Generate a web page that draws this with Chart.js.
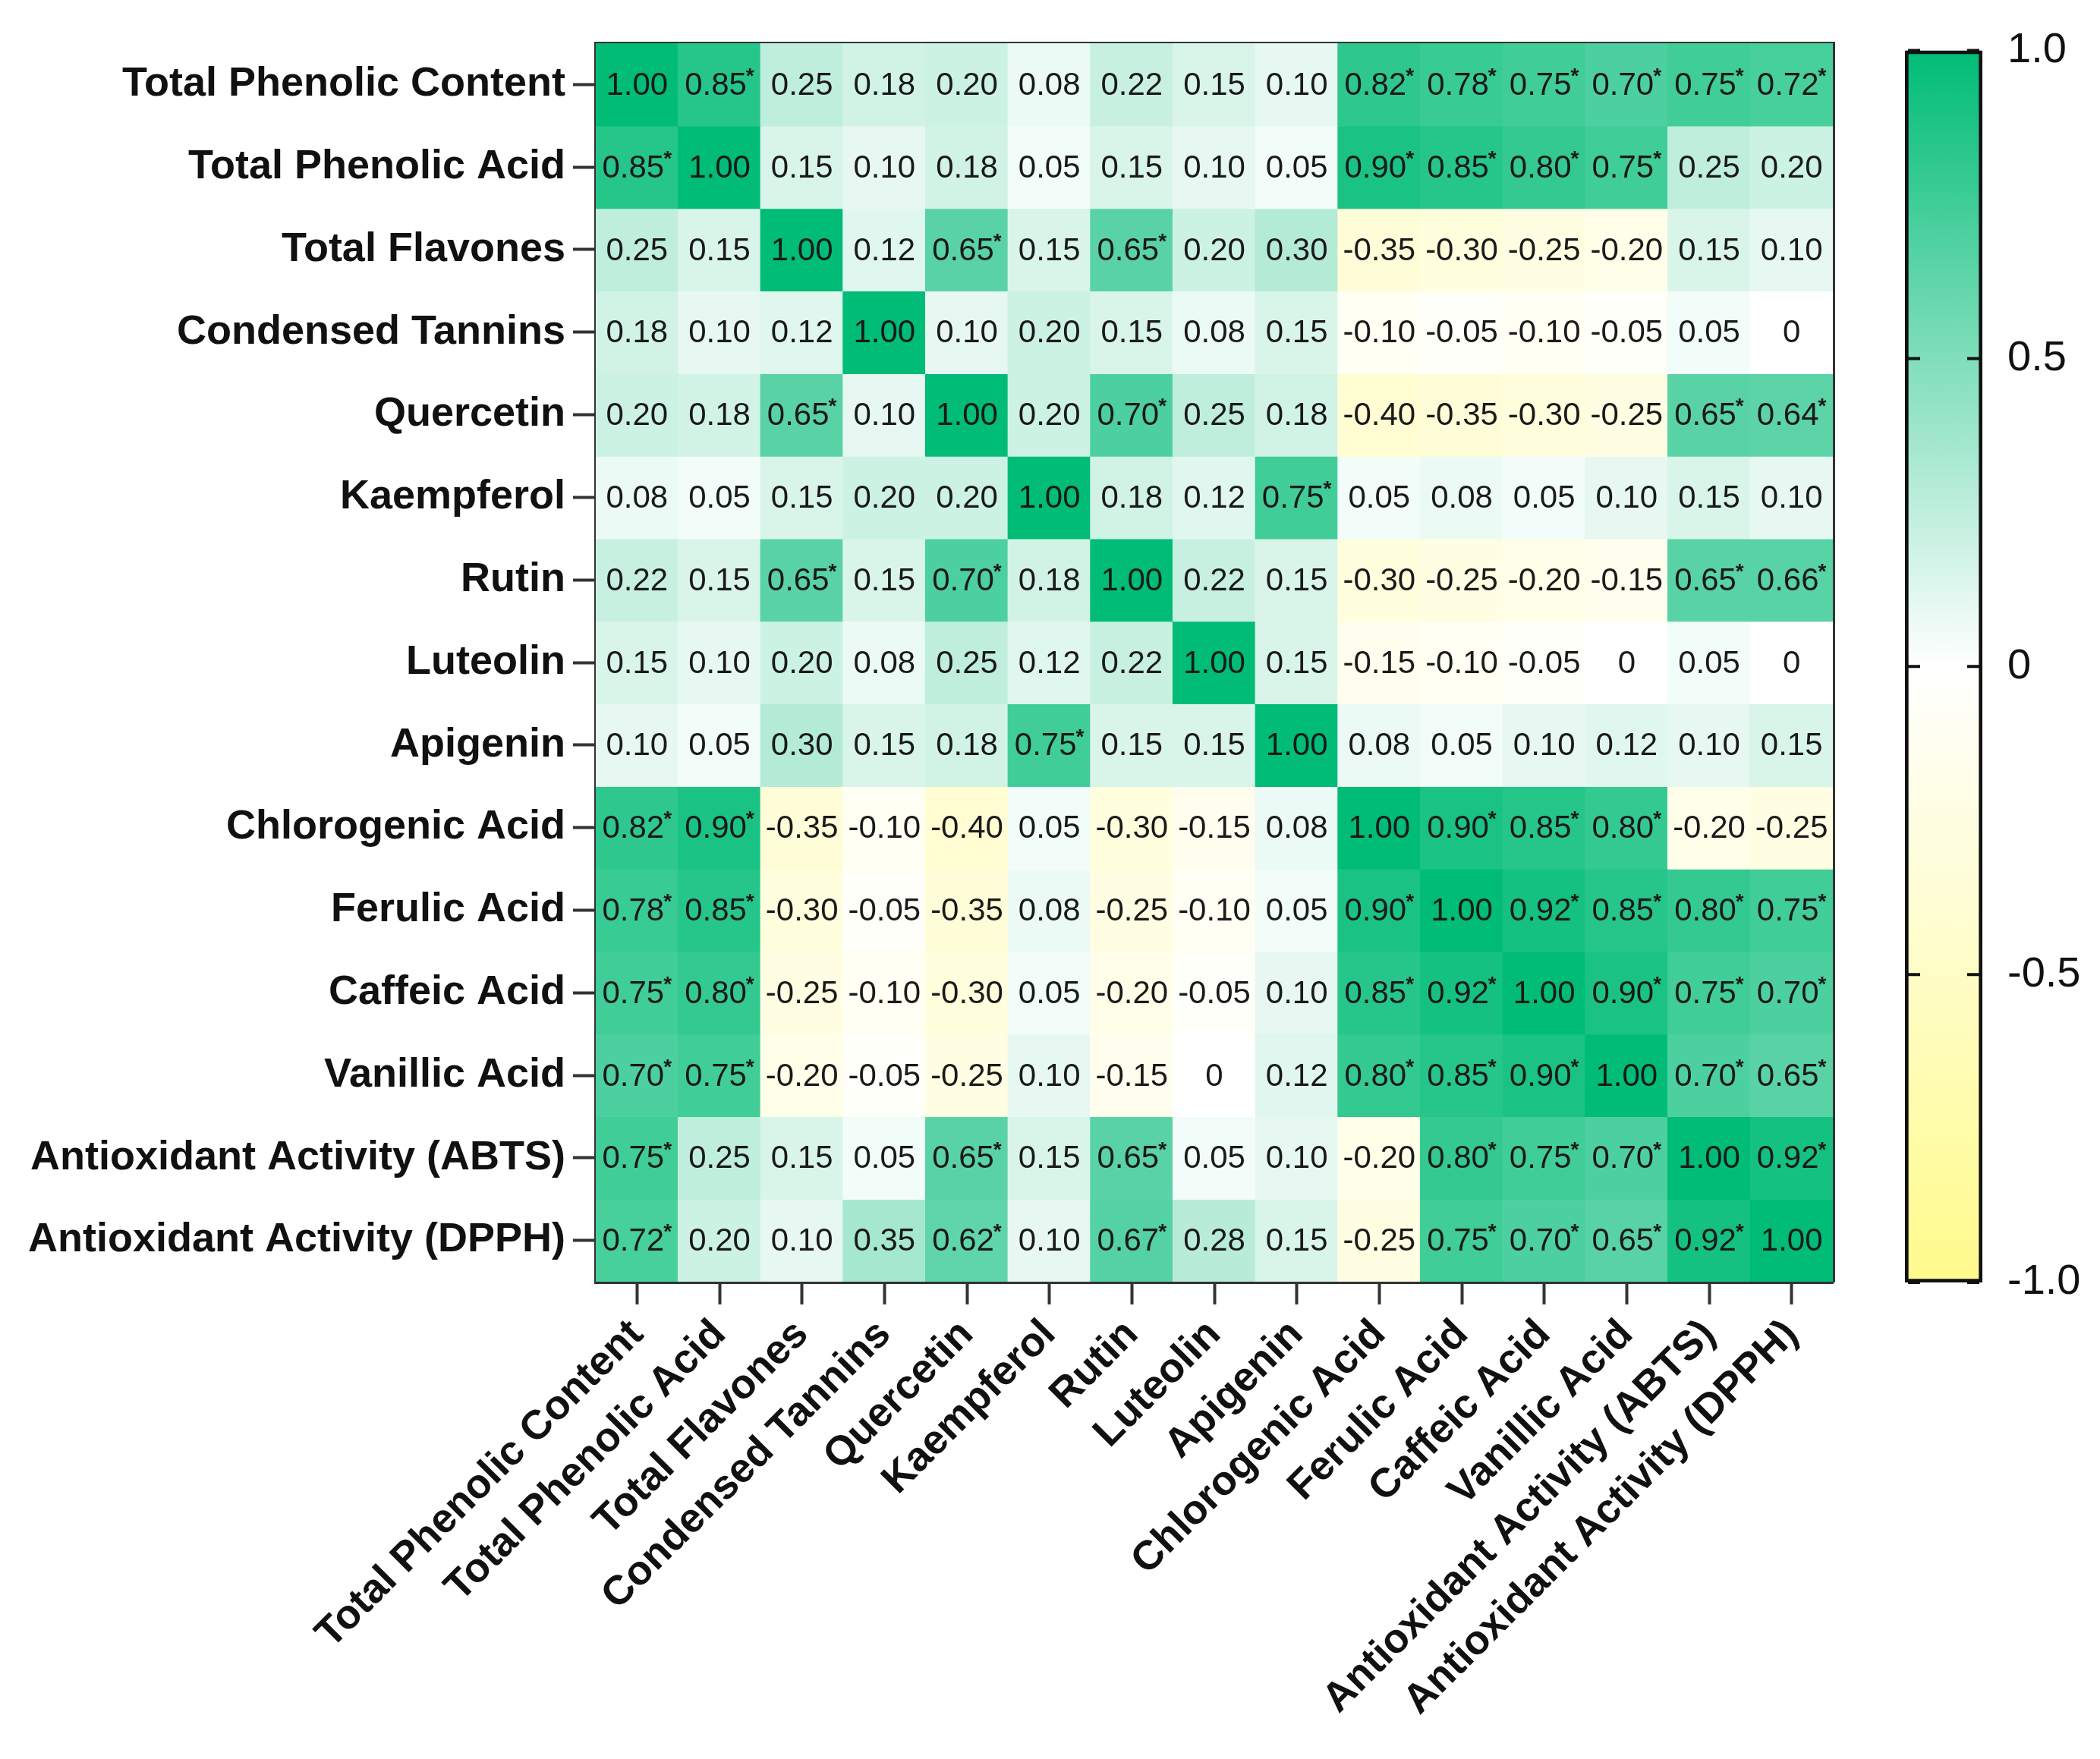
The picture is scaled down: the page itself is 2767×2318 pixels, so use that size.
<!DOCTYPE html>
<html>
<head>
<meta charset="utf-8">
<script src="https://cdn.jsdelivr.net/npm/chart.js@4.4.1/dist/chart.umd.min.js"></script>
<style>
  html, body { margin: 0; padding: 0; background: #fff; }
  #wrap { position: relative; width: 2767px; height: 2318px; }
  #heat { position: absolute; left: 0; top: 0; }
  #scale { position: absolute; left: 2440px; top: 0; }
</style>
</head>
<body>
<div id="wrap">
  <canvas id="heat" width="2440" height="2318"></canvas>
  <canvas id="scale" width="327" height="2318"></canvas>
</div>
<script>
// 変数名(行・列とも同じ並び)
const varNames = [
  "Total Phenolic Content", "Total Phenolic Acid", "Total Flavones", "Condensed Tannins",
  "Quercetin", "Kaempferol", "Rutin", "Luteolin", "Apigenin", "Chlorogenic Acid",
  "Ferulic Acid", "Caffeic Acid", "Vanillic Acid", "Antioxidant Activity (ABTS)",
  "Antioxidant Activity (DPPH)"
];

// 相関係数(1行ずつ)
const rowTPC   = [1.00, 0.85, 0.25, 0.18, 0.20, 0.08, 0.22, 0.15, 0.10, 0.82, 0.78, 0.75, 0.70, 0.75, 0.72];
const rowTPA   = [0.85, 1.00, 0.15, 0.10, 0.18, 0.05, 0.15, 0.10, 0.05, 0.90, 0.85, 0.80, 0.75, 0.25, 0.20];
const rowTF    = [0.25, 0.15, 1.00, 0.12, 0.65, 0.15, 0.65, 0.20, 0.30, -0.35, -0.30, -0.25, -0.20, 0.15, 0.10];
const rowCT    = [0.18, 0.10, 0.12, 1.00, 0.10, 0.20, 0.15, 0.08, 0.15, -0.10, -0.05, -0.10, -0.05, 0.05, 0];
const rowQue   = [0.20, 0.18, 0.65, 0.10, 1.00, 0.20, 0.70, 0.25, 0.18, -0.40, -0.35, -0.30, -0.25, 0.65, 0.64];
const rowKae   = [0.08, 0.05, 0.15, 0.20, 0.20, 1.00, 0.18, 0.12, 0.75, 0.05, 0.08, 0.05, 0.10, 0.15, 0.10];
const rowRut   = [0.22, 0.15, 0.65, 0.15, 0.70, 0.18, 1.00, 0.22, 0.15, -0.30, -0.25, -0.20, -0.15, 0.65, 0.66];
const rowLut   = [0.15, 0.10, 0.20, 0.08, 0.25, 0.12, 0.22, 1.00, 0.15, -0.15, -0.10, -0.05, 0, 0.05, 0];
const rowApi   = [0.10, 0.05, 0.30, 0.15, 0.18, 0.75, 0.15, 0.15, 1.00, 0.08, 0.05, 0.10, 0.12, 0.10, 0.15];
const rowChl   = [0.82, 0.90, -0.35, -0.10, -0.40, 0.05, -0.30, -0.15, 0.08, 1.00, 0.90, 0.85, 0.80, -0.20, -0.25];
const rowFer   = [0.78, 0.85, -0.30, -0.05, -0.35, 0.08, -0.25, -0.10, 0.05, 0.90, 1.00, 0.92, 0.85, 0.80, 0.75];
const rowCaf   = [0.75, 0.80, -0.25, -0.10, -0.30, 0.05, -0.20, -0.05, 0.10, 0.85, 0.92, 1.00, 0.90, 0.75, 0.70];
const rowVan   = [0.70, 0.75, -0.20, -0.05, -0.25, 0.10, -0.15, 0, 0.12, 0.80, 0.85, 0.90, 1.00, 0.70, 0.65];
const rowABTS  = [0.75, 0.25, 0.15, 0.05, 0.65, 0.15, 0.65, 0.05, 0.10, -0.20, 0.80, 0.75, 0.70, 1.00, 0.92];
const rowDPPH  = [0.72, 0.20, 0.10, 0.35, 0.62, 0.10, 0.67, 0.28, 0.15, -0.25, 0.75, 0.70, 0.65, 0.92, 1.00];

const corrRows = [rowTPC, rowTPA, rowTF, rowCT, rowQue, rowKae, rowRut, rowLut, rowApi,
                  rowChl, rowFer, rowCaf, rowVan, rowABTS, rowDPPH];

// カラーバーの目盛り
const cbTicks = [1, 0.5, 0, -0.5, -1];
const cbTickLabels = ["1.0", "0.5", "0", "-0.5", "-1.0"];

// 色(-1 黄 → 0 白 → 1 緑)
const colPos = [0, 188, 118];
const colMid = [255, 255, 255];
const colNeg = [255, 250, 140];

function colorFor(v) {
  const end = v >= 0 ? colPos : colNeg;
  const t = Math.min(1, Math.abs(v));
  const c = colMid.map((m, k) => Math.round(m + (end[k] - m) * t));
  return `rgb(${c[0]},${c[1]},${c[2]})`;
}

Chart.defaults.font.family = "'Liberation Sans', Arial, sans-serif";
Chart.defaults.color = "#111";

const n = varNames.length;
const axisColor = "#333";

// 1行 = 1データセット (浮動バーでセルを作る)
const datasets = corrRows.map((row, i) => ({
  label: varNames[i],
  data: row.map(() => [n - 1 - i, n - i]),
  backgroundColor: row.map(v => colorFor(v)),
  borderWidth: 0,
  inflateAmount: 0.7,
  barPercentage: 1,
  categoryPercentage: 1,
  grouped: false
}));

// セルの数値を書く
const cellText = {
  id: "cellText",
  afterDatasetsDraw(chart) {
    const ctx = chart.ctx;
    ctx.save();
    ctx.fillStyle = "#1a1a1a";
    ctx.textBaseline = "middle";
    chart.data.datasets.forEach((ds, i) => {
      const meta = chart.getDatasetMeta(i);
      meta.data.forEach((bar, j) => {
        const v = corrRows[i][j];
        const txt = v === 0 ? "0" : v.toFixed(2);
        const star = v >= 0.6 && v < 1;
        const cy = (bar.y + bar.base) / 2;
        ctx.font = "42px 'Liberation Sans', Arial, sans-serif";
        const w = ctx.measureText(txt).width;
        const sw = star ? 10 : 0;
        const left = bar.x - (w + sw) / 2;
        ctx.textAlign = "left";
        ctx.fillText(txt, left, cy + 2);
        if (star) {
          ctx.font = "bold 28px 'Liberation Sans', Arial, sans-serif";
          ctx.fillText("*", left + w - 1, cy - 10);
        }
      });
    });
    ctx.restore();
  }
};

new Chart(document.getElementById("heat"), {
  type: "bar",
  data: { labels: varNames, datasets: datasets },
  options: {
    responsive: false,
    devicePixelRatio: 1,
    animation: false,
    layout: { padding: { top: 57, right: 25, left: 0, bottom: 0 } },
    plugins: { legend: { display: false }, tooltip: { enabled: false } },
    scales: {
      x: {
        type: "category",
        position: "bottom",
        offset: true,
        grid: { offset: false, drawOnChartArea: false, tickLength: 30, tickWidth: 4, tickColor: axisColor },
        border: { display: true, width: 5, color: axisColor },
        ticks: { autoSkip: false, minRotation: 45, maxRotation: 45, padding: 8,
                 font: { size: 54, weight: "bold" }, color: "#111" },
        afterFit: s => { s.height = 629; }
      },
      xTop: {
        type: "category",
        position: "top",
        grid: { display: false },
        border: { display: true, width: 5, color: axisColor },
        ticks: { display: false },
        afterFit: s => { s.height = 0; }
      },
      y: {
        type: "linear",
        position: "left",
        min: 0,
        max: n,
        grid: { drawOnChartArea: false, tickLength: 30, tickWidth: 4, tickColor: axisColor },
        border: { display: true, width: 5, color: axisColor },
        afterBuildTicks: s => { s.ticks = varNames.map((_, i) => ({ value: n - 0.5 - i })); },
        ticks: {
          autoSkip: false,
          padding: 10,
          font: { size: 54, weight: "bold" },
          color: "#111",
          callback: v => varNames[Math.round(n - 0.5 - v)]
        },
        afterFit: s => { s.width = 785; }
      },
      yRight: {
        type: "linear",
        position: "right",
        min: 0,
        max: n,
        grid: { display: false },
        border: { display: true, width: 5, color: axisColor },
        ticks: { display: false },
        afterFit: s => { s.width = 0; }
      }
    }
  },
  plugins: [cellText]
});

// カラーバー
const cbMarks = {
  id: "cbMarks",
  afterDatasetsDraw(chart) {
    const ctx = chart.ctx;
    const area = chart.chartArea;
    const ys = chart.scales.y;
    ctx.save();
    ctx.strokeStyle = "#111";
    ctx.lineWidth = 4;
    cbTicks.forEach(v => {
      const p = ys.getPixelForValue(v);
      ctx.beginPath();
      ctx.moveTo(area.left + 4, p); ctx.lineTo(area.left + 20, p);
      ctx.moveTo(area.right - 20, p); ctx.lineTo(area.right - 4, p);
      ctx.stroke();
    });
    ctx.restore();
  }
};

new Chart(document.getElementById("scale"), {
  type: "bar",
  data: {
    labels: ["r"],
    datasets: [{
      data: [[-1, 1]],
      barPercentage: 1,
      categoryPercentage: 1,
      borderWidth: 5,
      borderColor: "#111",
      borderSkipped: false,
      backgroundColor: (c) => {
        const chart = c.chart;
        if (!chart.chartArea) return colMid;
        const ys = chart.scales.y;
        const g = chart.ctx.createLinearGradient(0, ys.getPixelForValue(1), 0, ys.getPixelForValue(-1));
        g.addColorStop(0, colorFor(1));
        g.addColorStop(0.25, colorFor(0.5));
        g.addColorStop(0.5, colorFor(0));
        g.addColorStop(0.75, colorFor(-0.5));
        g.addColorStop(1, colorFor(-1));
        return g;
      }
    }]
  },
  options: {
    responsive: false,
    devicePixelRatio: 1,
    animation: false,
    layout: { padding: { top: 57, left: 70, right: 0, bottom: 2318 - 1690 } },
    plugins: { legend: { display: false }, tooltip: { enabled: false } },
    scales: {
      x: { display: false, offset: true },
      y: {
        position: "right",
        min: -1,
        max: 1,
        grid: { display: false, drawTicks: false },
        border: { display: false },
        afterBuildTicks: s => { s.ticks = cbTicks.map(v => ({ value: v })); },
        ticks: {
          padding: 33,
          font: { size: 56 },
          color: "#111",
          callback: (v) => cbTickLabels[cbTicks.indexOf(v)]
        },
        afterFit: s => { s.width = 155; }
      }
    }
  },
  plugins: [cbMarks]
});
</script>
</body>
</html>
